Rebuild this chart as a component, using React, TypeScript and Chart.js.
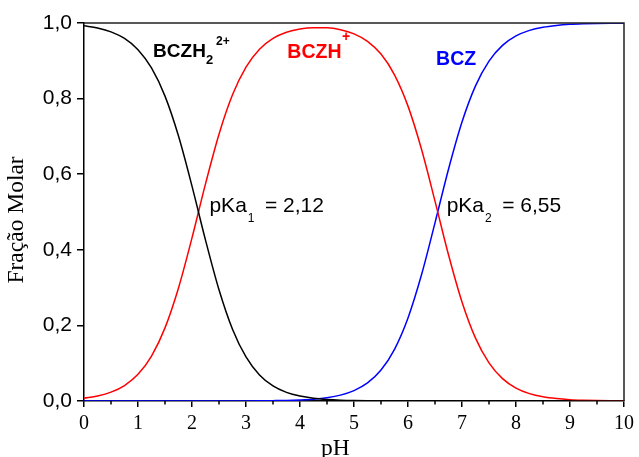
import React, { useEffect, useRef } from "react";
import { Chart, registerables } from "chart.js";

Chart.register(...registerables);

// pH values (x)
const PH = [
  0, 0.25, 0.5, 0.75, 1, 1.25, 1.5, 1.75, 2, 2.25, 2.5, 2.75, 3, 3.25, 3.5, 3.75,
  4, 4.25, 4.5, 4.75, 5, 5.25, 5.5, 5.75, 6, 6.25, 6.5, 6.75, 7, 7.25, 7.5, 7.75,
  8, 8.25, 8.5, 8.75, 9, 9.25, 9.5, 9.75, 10,
];

// Fração molar BCZH2 2+ (black)
const BCZH2 = [
  0.9925, 0.9867, 0.9766, 0.9591, 0.9295, 0.8811, 0.8065, 0.701, 0.5686, 0.4257,
  0.2942, 0.1899, 0.1165, 0.069, 0.04, 0.0229, 0.013, 0.0073, 0.0041, 0.0023,
  0.0013, 0.0007, 0.0004, 0.0002, 0.0001, 0, 0, 0, 0, 0, 0, 0, 0, 0, 0, 0, 0, 0,
  0, 0, 0,
];

// Fração molar BCZH+ (red)
const BCZH = [
  0.0075, 0.0133, 0.0234, 0.0409, 0.0705, 0.1189, 0.1935, 0.299, 0.4314, 0.5743,
  0.7058, 0.81, 0.8834, 0.9306, 0.9592, 0.9755, 0.9843, 0.9876, 0.9872, 0.9821,
  0.9713, 0.9516, 0.9178, 0.863, 0.7801, 0.6661, 0.5287, 0.3868, 0.2619, 0.1663,
  0.1009, 0.0593, 0.0343, 0.0196, 0.0111, 0.0063, 0.0035, 0.002, 0.0011, 0.0006,
  0.0004,
];

// Fração molar BCZ (blue)
const BCZ = [
  0, 0, 0, 0, 0, 0, 0, 0, 0, 0, 0.0001, 0.0001, 0.0002, 0.0005, 0.0009, 0.0015,
  0.0028, 0.0049, 0.0088, 0.0156, 0.0274, 0.0477, 0.0818, 0.1368, 0.2198, 0.3339,
  0.4713, 0.6132, 0.7381, 0.8337, 0.8991, 0.9407, 0.9657, 0.9804, 0.9889, 0.9937,
  0.9965, 0.998, 0.9989, 0.9994, 0.9996,
];

const X_MIN = 0;
const X_MAX = 10;
const X_MINOR = [0.5, 1.5, 2.5, 3.5, 4.5, 5.5, 6.5, 7.5, 8.5, 9.5];
const Y_MIN = 0;
const Y_MAX = 1;
const Y_STEP = 0.2;

const SANS = "'Liberation Sans', Arial, sans-serif";
const SERIF = "'Liberation Serif', 'Times New Roman', serif";

type Part = { t: string; font: string; dx?: number; dy?: number; after?: number };

type Note = { x: number; y: number; color: string; parts: Part[] };

const NOTES: Note[] = [
  {
    x: 1.28,
    y: 0.911,
    color: "#000000",
    parts: [
      { t: "BCZH", font: `bold 19px ${SANS}` },
      { t: "2", font: `bold 13px ${SANS}`, dy: 7.3, after: 3 },
      { t: "2+", font: `bold 12px ${SANS}`, dy: -11.3 },
    ],
  },
  {
    x: 3.766,
    y: 0.908,
    color: "#ff0000",
    parts: [
      { t: "BCZH", font: `bold 19.5px ${SANS}` },
      { t: "+", font: `bold 14px ${SANS}`, dx: 0.5, dy: -16.3 },
    ],
  },
  {
    x: 6.52,
    y: 0.8896,
    color: "#0000ff",
    parts: [{ t: "BCZ", font: `bold 19.5px ${SANS}` }],
  },
  {
    x: 2.323,
    y: 0.5012,
    color: "#000000",
    parts: [
      { t: "pKa", font: `21px ${SANS}` },
      { t: "1", font: `12px ${SANS}`, dx: 1, dy: 10.5, after: 10.5 },
      { t: "= 2,12", font: `21px ${SANS}` },
    ],
  },
  {
    x: 6.716,
    y: 0.5012,
    color: "#000000",
    parts: [
      { t: "pKa", font: `21px ${SANS}` },
      { t: "2", font: `12px ${SANS}`, dx: 1, dy: 10.5, after: 10.5 },
      { t: "= 6,55", font: `21px ${SANS}` },
    ],
  },
];

const X_TITLE = { text: "pH", x: 4.39, y: -0.143 };
const Y_TITLE = { text: "Fração Molar", x: -1.13, y: 0.479 };

const decorPlugin = {
  id: "decor",
  afterDatasetsDraw(chart: any) {
    const { ctx, chartArea, scales } = chart;
    const xs = scales.x;
    const ys = scales.y;
    ctx.save();
    // top and right frame
    ctx.strokeStyle = "#222222";
    ctx.lineWidth = 1.5;
    ctx.beginPath();
    ctx.moveTo(chartArea.left, chartArea.top);
    ctx.lineTo(chartArea.right, chartArea.top);
    ctx.lineTo(chartArea.right, chartArea.bottom);
    ctx.stroke();

    // minor ticks on x
    ctx.strokeStyle = "#000000";
    ctx.lineWidth = 1.5;
    ctx.beginPath();
    for (const v of X_MINOR) {
      const px = xs.getPixelForValue(v);
      ctx.moveTo(px, chartArea.bottom);
      ctx.lineTo(px, chartArea.bottom + 3.5);
    }
    ctx.stroke();

    // annotations
    ctx.textAlign = "left";
    ctx.textBaseline = "alphabetic";
    for (const n of NOTES) {
      let cx = xs.getPixelForValue(n.x);
      const cy = ys.getPixelForValue(n.y);
      ctx.fillStyle = n.color;
      for (const p of n.parts) {
        ctx.font = p.font;
        const dx = p.dx || 0;
        ctx.fillText(p.t, cx + dx, cy + (p.dy || 0));
        cx += dx + ctx.measureText(p.t).width + (p.after || 0);
      }
    }

    // axis titles
    ctx.fillStyle = "#000000";
    ctx.font = `23.5px ${SERIF}`;
    ctx.fillText(X_TITLE.text, xs.getPixelForValue(X_TITLE.x), ys.getPixelForValue(X_TITLE.y));
    ctx.save();
    ctx.translate(xs.getPixelForValue(Y_TITLE.x), ys.getPixelForValue(Y_TITLE.y));
    ctx.rotate(-Math.PI / 2);
    ctx.textAlign = "center";
    ctx.fillText(Y_TITLE.text, 0, 0);
    ctx.restore();
    ctx.restore();
  },
};

function toPoints(ys: number[]) {
  return PH.map((x, i) => ({ x, y: ys[i] }));
}

export default function App() {
  const ref = useRef<HTMLCanvasElement | null>(null);

  useEffect(() => {
    if (!ref.current) return;
    const chart = new Chart(ref.current, {
      type: "line",
      data: {
        datasets: [
          { label: "BCZH2 2+", data: toPoints(BCZH2), borderColor: "#000000" },
          { label: "BCZH+", data: toPoints(BCZH), borderColor: "#ff0000" },
          { label: "BCZ", data: toPoints(BCZ), borderColor: "#0000ff" },
        ].map((d) => ({
          ...d,
          borderWidth: 1.5,
          pointRadius: 0,
          fill: false,
          cubicInterpolationMode: "monotone" as const,
        })),
      },
      options: {
        responsive: false,
        animation: false,
        events: [],
        layout: { padding: { top: 23, right: 12, left: 0, bottom: 0 } },
        plugins: {
          legend: { display: false },
          tooltip: { enabled: false },
          title: { display: false },
        },
        scales: {
          x: {
            type: "linear",
            min: X_MIN,
            max: X_MAX,
            afterFit: (s: any) => {
              s.height = 56;
            },
            ticks: {
              stepSize: 1,
              autoSkip: false,
              maxRotation: 0,
              padding: 5,
              color: "#000000",
              font: { family: SERIF, size: 20 },
              callback: (v: any) => String(v),
            },
            grid: {
              drawOnChartArea: false,
              drawTicks: true,
              tickLength: 6,
              color: "#000000",
              lineWidth: 1.5,
            },
            border: { display: true, color: "#000000", width: 1.5 },
          },
          y: {
            type: "linear",
            min: Y_MIN,
            max: Y_MAX,
            afterFit: (s: any) => {
              s.width = 84;
            },
            ticks: {
              stepSize: Y_STEP,
              padding: 5,
              color: "#000000",
              font: { family: SANS, size: 21 },
              callback: (v: any) => Number(v).toFixed(1).replace(".", ","),
            },
            grid: {
              drawOnChartArea: false,
              drawTicks: true,
              tickLength: 7,
              color: "#000000",
              lineWidth: 1.5,
            },
            border: { display: true, color: "#000000", width: 1.5 },
          },
        },
      },
      plugins: [decorPlugin],
    });
    return () => chart.destroy();
  }, []);

  return (
    <div style={{ position: "fixed", left: 0, top: 0, width: 639, height: 457, background: "#ffffff" }}>
      <canvas ref={ref} width={639} height={457} style={{ display: "block" }} />
    </div>
  );
}
